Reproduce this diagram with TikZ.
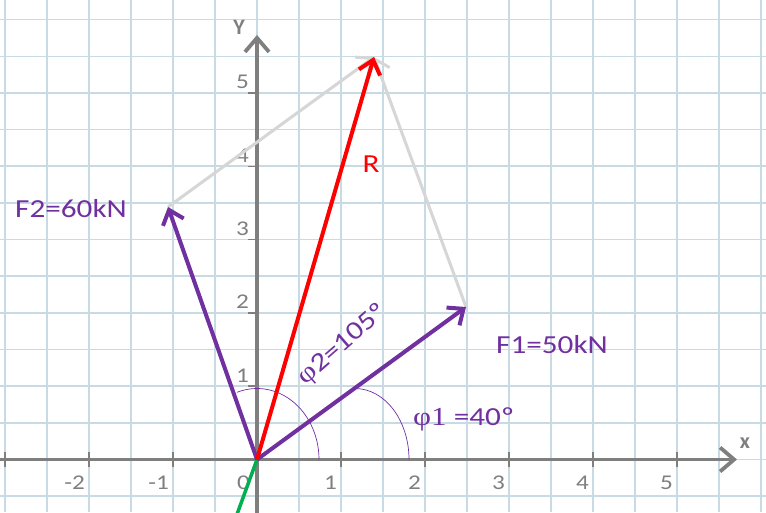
\documentclass[tikz,border=0pt]{standalone}
\usepackage{graphicx}
\usepackage{fontspec}
\setmainfont{Carlito}
\newfontfamily\phifont{Liberation Serif}
\usetikzlibrary{arrows.meta}
\definecolor{vpurple}{HTML}{7030A0}
\definecolor{vred}{HTML}{FF0000}
\definecolor{vlight}{HTML}{D6D6D6}
\definecolor{vaxis}{HTML}{7F7F7F}
\definecolor{vgreen}{HTML}{00B050}
\definecolor{vgrid}{RGB}{200,218,228}
\newcommand{\wide}[1]{\scalebox{1.2}[1]{#1}}
\tikzset{
  gridline/.style={vgrid, line width=1.6pt},
  axisline/.style={vaxis, line width=3.8pt, -{Straight Barb[length=14pt,width=24pt,line width=3.8pt]}},
  tickmark/.style={vaxis, line width=1.5pt},
  ticklabel/.style={text=vaxis, font=\fontsize{21}{23}\selectfont, inner sep=0pt},
  axislabel/.style={text=vaxis, font=\fontsize{22}{24}\selectfont\bfseries, inner sep=0pt},
  vec/.style={line width=4pt, -{Straight Barb[length=13pt,width=22pt,line width=4pt]}},
  helper/.style={vlight, line width=3pt, -{Straight Barb[length=13pt,width=22pt,line width=3pt]}},
  biglabel/.style={text=vpurple, font=\fontsize{26}{28}\selectfont, inner sep=0pt},
  anglelabel/.style={text=vpurple, font=\fontsize{26}{28}\selectfont, inner sep=0pt},
  anglearc/.style={vpurple, line width=0.7pt}
}
\begin{document}
\begin{tikzpicture}[x=1pt,y=1pt]
\useasboundingbox (0,0) rectangle (766,512);
\clip (0,0) rectangle (766,512);
\fill[white] (0,0) rectangle (766,512);
% grid
\foreach \i in {0,...,18} \draw[gridline] ({5+42*\i},0) -- ({5+42*\i},512);
\foreach \j in {0,...,13} \draw[gridline] (0,{15.85+36.65*\j}) -- (766,{15.85+36.65*\j});
% key points
\coordinate (O) at (257,52.5);
\coordinate (F1) at (466,205);
\coordinate (F2) at (168,305);
\coordinate (R) at (374,455);
\coordinate (xs) at (0,52.5);
\coordinate (xe) at (737,52.5);
\coordinate (ys) at (257,-5);
\coordinate (ye) at (257,477);
\coordinate (G) at (236,-5);
% axes
\draw[axisline] (xs) -- (xe);
\draw[axisline] (ys) -- (ye);
\foreach \k in {-3,-2,-1,1,2,3,4,5} \draw[tickmark] ({257+84*\k},45) -- ({257+84*\k},60);
\foreach \k in {1,...,5} \draw[tickmark] (248,{52.5+73.3*\k}) -- (257,{52.5+73.3*\k});
\foreach \k in {-2,-1,1,2,3,4,5} \node[ticklabel, anchor=base east] (tx\k) at ({257+84*\k-4},23) {\wide{\k}};
\node[ticklabel, anchor=base east] (tx0) at (250,23) {\wide{0}};
\foreach \k in {1,...,5} \node[ticklabel, anchor=base east] (ty\k) at (249,{52.5+73.3*\k+4}) {\wide{\k}};
\node[axislabel] (Ylab) at (239,485) {Y};
\node[axislabel] (Xlab) at (745,69) {x};
% green line
\draw[vgreen, line width=3.5pt] (O) -- (G);
% angle arcs
\draw[anglearc] (319,52.5) arc[start angle=0, end angle=109, x radius=62, y radius=71];
\draw[anglearc] (409,52.5) arc[start angle=0, end angle=90, x radius=54, y radius=71];
% parallelogram helpers
\draw[helper] (F2) -- (R);
\draw[helper] (F1) -- (R);
% vectors
\draw[vec, vpurple] (O) -- (F1);
\draw[vec, vpurple] (O) -- (F2);
\draw[vec, vred] (O) -- (R);
% labels
\node[biglabel, anchor=base west] (lF2) at (15,294) {\wide{F2=60kN}};
\node[biglabel, anchor=base west] (lF1) at (496,158) {\wide{F1=50kN}};
\node[biglabel, text=vred, anchor=base] (lR) at (371,339) {\wide{R}};
\node[anglelabel, anchor=base west] (lphi1) at (413,87) {\wide{{\phifont φ1} =40º}};
\node[anglelabel, rotate=41] (lphi2) at (343,167) {\wide{{\phifont φ}2=105º}};
\end{tikzpicture}
\end{document}
